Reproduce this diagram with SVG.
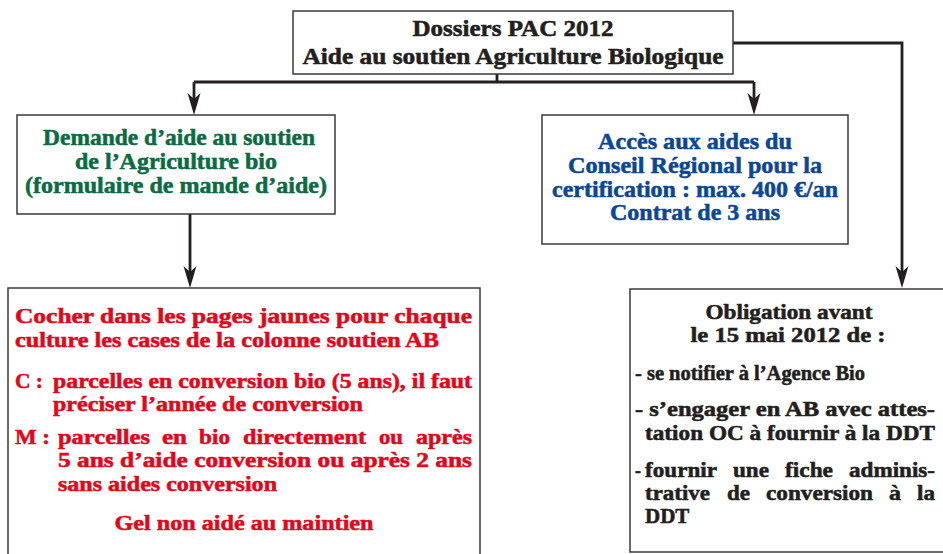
<svg xmlns="http://www.w3.org/2000/svg" width="943" height="554" viewBox="0 0 943 554">
<style>
.box{fill:#fff;stroke:#3a3a3a;stroke-width:1.5}
.t{font-family:"Liberation Serif","Times New Roman",Times,serif;font-weight:bold;stroke-width:0.55}
.k{fill:#231f20;stroke:#231f20;font-size:23px}
.g{fill:#0b6b43;stroke:#0b6b43;font-size:23px}
.b{fill:#0d4793;stroke:#0d4793;font-size:23px}
.r{fill:#e2071b;stroke:#e2071b;font-size:21px}
.w{fill:#231f20;stroke:#231f20;font-size:21px}
.c{text-anchor:middle}
.conn{fill:none;stroke:#231f20;stroke-width:2.8}
</style>
<defs>
<marker id="ah" markerUnits="userSpaceOnUse" markerWidth="26" markerHeight="16" viewBox="-24 -8 26 16" refX="-15" refY="0" orient="auto" overflow="visible">
<path d="M0,0 L-22,-6.5 L-16,0 L-22,6.5 Z" fill="#231f20"/>
</marker>
</defs>
<g id="connectors">
<path class="conn" d="M497,74 V82"/>
<path class="conn" d="M194,82 H754"/>
<path class="conn" d="M194,82 V100" marker-end="url(#ah)"/>
<path class="conn" d="M754,82 V100" marker-end="url(#ah)"/>
<path class="conn" d="M733,43 H902 V273" marker-end="url(#ah)"/>
<path class="conn" d="M190,214 V273" marker-end="url(#ah)"/>
</g>
<g id="top">
<rect class="box" x="293" y="11" width="440" height="63"/>
<text class="t k c" x="513" y="36" textLength="201" lengthAdjust="spacingAndGlyphs">Dossiers PAC 2012</text>
<text class="t k c" x="513" y="64" textLength="421" lengthAdjust="spacingAndGlyphs">Aide au soutien Agriculture Biologique</text>
</g>
<g id="demande">
<rect class="box" x="17" y="115" width="318" height="99"/>
<text class="t g c" x="179" y="145" textLength="272" lengthAdjust="spacingAndGlyphs">Demande d’aide au soutien</text>
<text class="t g c" x="176" y="169" textLength="202" lengthAdjust="spacingAndGlyphs">de l’Agriculture bio</text>
<text class="t g c" x="176" y="193" textLength="302" lengthAdjust="spacingAndGlyphs">(formulaire de mande d’aide)</text>
</g>
<g id="acces">
<rect class="box" x="542" y="115" width="306" height="129"/>
<text class="t b c" x="695" y="149" textLength="194" lengthAdjust="spacingAndGlyphs">Accès aux aides du</text>
<text class="t b c" x="695" y="173" textLength="254" lengthAdjust="spacingAndGlyphs">Conseil Régional pour la</text>
<text class="t b c" x="695" y="197" textLength="286" lengthAdjust="spacingAndGlyphs">certification : max. 400 €/an</text>
<text class="t b c" x="695" y="220" textLength="170" lengthAdjust="spacingAndGlyphs">Contrat de 3 ans</text>
</g>
<g id="cocher">
<rect class="box" x="8" y="288" width="472" height="290"/>
<text class="t r" x="15" y="323" textLength="457" lengthAdjust="spacingAndGlyphs">Cocher dans les pages jaunes pour chaque</text>
<text class="t r" x="15" y="347" textLength="424" lengthAdjust="spacingAndGlyphs">culture les cases de la colonne soutien AB</text>
<text class="t r" x="15" y="388" textLength="28" lengthAdjust="spacingAndGlyphs">C :</text>
<text class="t r" x="53" y="388" textLength="419" lengthAdjust="spacingAndGlyphs">parcelles en conversion bio (5 ans), il faut</text>
<text class="t r" x="53" y="411" textLength="310" lengthAdjust="spacingAndGlyphs">préciser l’année de conversion</text>
<text class="t r" x="15" y="444" textLength="35" lengthAdjust="spacingAndGlyphs">M :</text>
<g>
<text class="t r" x="58" y="444" textLength="92" lengthAdjust="spacingAndGlyphs">parcelles</text>
<text class="t r" x="162" y="444" textLength="25" lengthAdjust="spacingAndGlyphs">en</text>
<text class="t r" x="199" y="444" textLength="31" lengthAdjust="spacingAndGlyphs">bio</text>
<text class="t r" x="243" y="444" textLength="123" lengthAdjust="spacingAndGlyphs">directement</text>
<text class="t r" x="379" y="444" textLength="24" lengthAdjust="spacingAndGlyphs">ou</text>
<text class="t r" x="416" y="444" textLength="56" lengthAdjust="spacingAndGlyphs">après</text>
</g>
<text class="t r" x="58" y="467" textLength="414" lengthAdjust="spacingAndGlyphs">5 ans d’aide conversion ou après 2 ans</text>
<text class="t r" x="58" y="491" textLength="219" lengthAdjust="spacingAndGlyphs">sans aides conversion</text>
<text class="t r c" x="244" y="530" textLength="259" lengthAdjust="spacingAndGlyphs">Gel non aidé au maintien</text>
</g>
<g id="obligation">
<rect class="box" x="630" y="289" width="320" height="263"/>
<text class="t w c" x="789" y="319" textLength="167" lengthAdjust="spacingAndGlyphs">Obligation avant</text>
<text class="t w c" x="788" y="342" textLength="195" lengthAdjust="spacingAndGlyphs">le 15 mai 2012 de :</text>
<text class="t w" x="635" y="380" textLength="230" lengthAdjust="spacingAndGlyphs">- se notifier à l’Agence Bio</text>
<text class="t w" x="635" y="416" textLength="300" lengthAdjust="spacingAndGlyphs">- s’engager en AB avec attes-</text>
<text class="t w" x="645" y="440" textLength="290" lengthAdjust="spacingAndGlyphs">tation OC à fournir à la DDT</text>
<g>
<text class="t w" x="635" y="477" textLength="6" lengthAdjust="spacingAndGlyphs">-</text>
<text class="t w" x="645" y="477" textLength="72" lengthAdjust="spacingAndGlyphs">fournir</text>
<text class="t w" x="733" y="477" textLength="36" lengthAdjust="spacingAndGlyphs">une</text>
<text class="t w" x="785" y="477" textLength="48" lengthAdjust="spacingAndGlyphs">fiche</text>
<text class="t w" x="849" y="477" textLength="86" lengthAdjust="spacingAndGlyphs">adminis-</text>
</g>
<g>
<text class="t w" x="645" y="500" textLength="65" lengthAdjust="spacingAndGlyphs">trative</text>
<text class="t w" x="727" y="500" textLength="23" lengthAdjust="spacingAndGlyphs">de</text>
<text class="t w" x="766" y="500" textLength="107" lengthAdjust="spacingAndGlyphs">conversion</text>
<text class="t w" x="889" y="500" textLength="12" lengthAdjust="spacingAndGlyphs">à</text>
<text class="t w" x="917" y="500" textLength="18" lengthAdjust="spacingAndGlyphs">la</text>
</g>
<text class="t w" x="645" y="523">DDT</text>
</g>
</svg>
